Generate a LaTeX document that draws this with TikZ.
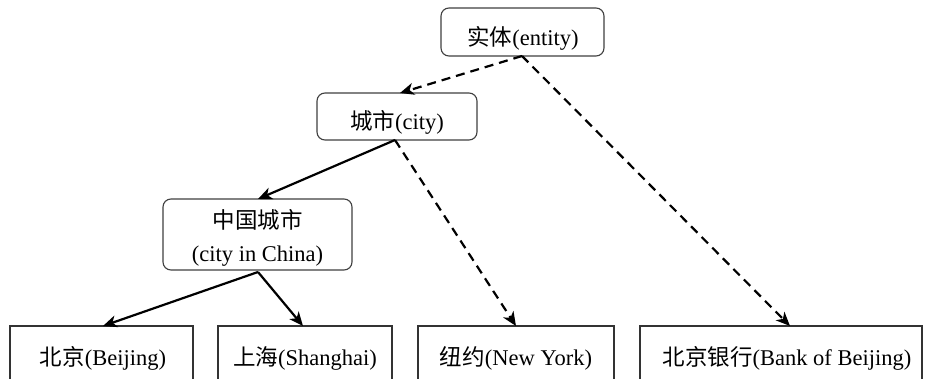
\documentclass[tikz,border=0pt]{standalone}
\usepackage{fontspec}
\setmainfont{Liberation Serif}
\newfontfamily\cjk{Noto Sans CJK SC}
\usetikzlibrary{arrows.meta}
\begin{document}
\begin{tikzpicture}[x=1pt,y=-1pt,
  rbox/.style={draw=black!75,line width=1.1pt,rounded corners=8pt,fill=white,inner sep=0pt},
  sbox/.style={draw=black!80,line width=1.1pt,fill=white,inner sep=0pt},
  lab/.style={font=\fontsize{22.5}{27}\selectfont},
  solidarr/.style={line width=2.2pt,-{Stealth[length=14pt,width=12pt,inset=4pt]}},
  dasharr/.style={line width=2.2pt,dash pattern=on 9pt off 6pt,-{Stealth[length=14pt,width=12pt,inset=4pt]}}]
\useasboundingbox (0,0) rectangle (928,378);
\clip (0,0) rectangle (928,378);
\fill[white] (0,0) rectangle (928,378);
% boxes
\draw[rbox] (441,8) rectangle (604,56);
\node[lab] (entity) at (523,38) {{\cjk 实体}(entity)};
\coordinate (entityB) at (522,56);
\draw[rbox] (317,93) rectangle (477,140);
\node[lab] (city) at (397,122) {{\cjk 城市}(city)};
\coordinate (cityT) at (400,93);
\coordinate (cityB) at (395,140);
\draw[rbox] (163,199) rectangle (352,270);
\node[lab] (china1) at (257.5,220) {\cjk 中国城市};
\node[lab] (china2) at (257.5,256) {(city in China)};
\coordinate (chinaT) at (258,199);
\coordinate (chinaB) at (258,272);
\draw[sbox] (10,326) rectangle (193,400);
\node[lab] (bj) at (103,358) {{\cjk 北京}(Beijing)};
\draw[sbox] (218,326) rectangle (392,400);
\node[lab] (sh) at (305,358) {{\cjk 上海}(Shanghai)};
\draw[sbox] (418,326) rectangle (614,400);
\node[lab] (ny) at (516,358) {{\cjk 纽约}(New York)};
\draw[sbox] (640,326) rectangle (922,400);
\node[lab] (bank) at (787,358) {{\cjk 北京银行}(Bank of Beijing)};
\coordinate (bjT) at (103,326);
\coordinate (shT) at (303,326);
\coordinate (nyT) at (516,326);
\coordinate (bankT) at (790,326);
% connectors
\draw[dasharr] (entityB) -- (cityT);
\draw[dasharr] (entityB) -- (bankT);
\draw[solidarr] (cityB) -- (chinaT);
\draw[dasharr] (cityB) -- (nyT);
\draw[solidarr] (chinaB) -- (bjT);
\draw[solidarr] (chinaB) -- (shT);
\end{tikzpicture}
\end{document}
